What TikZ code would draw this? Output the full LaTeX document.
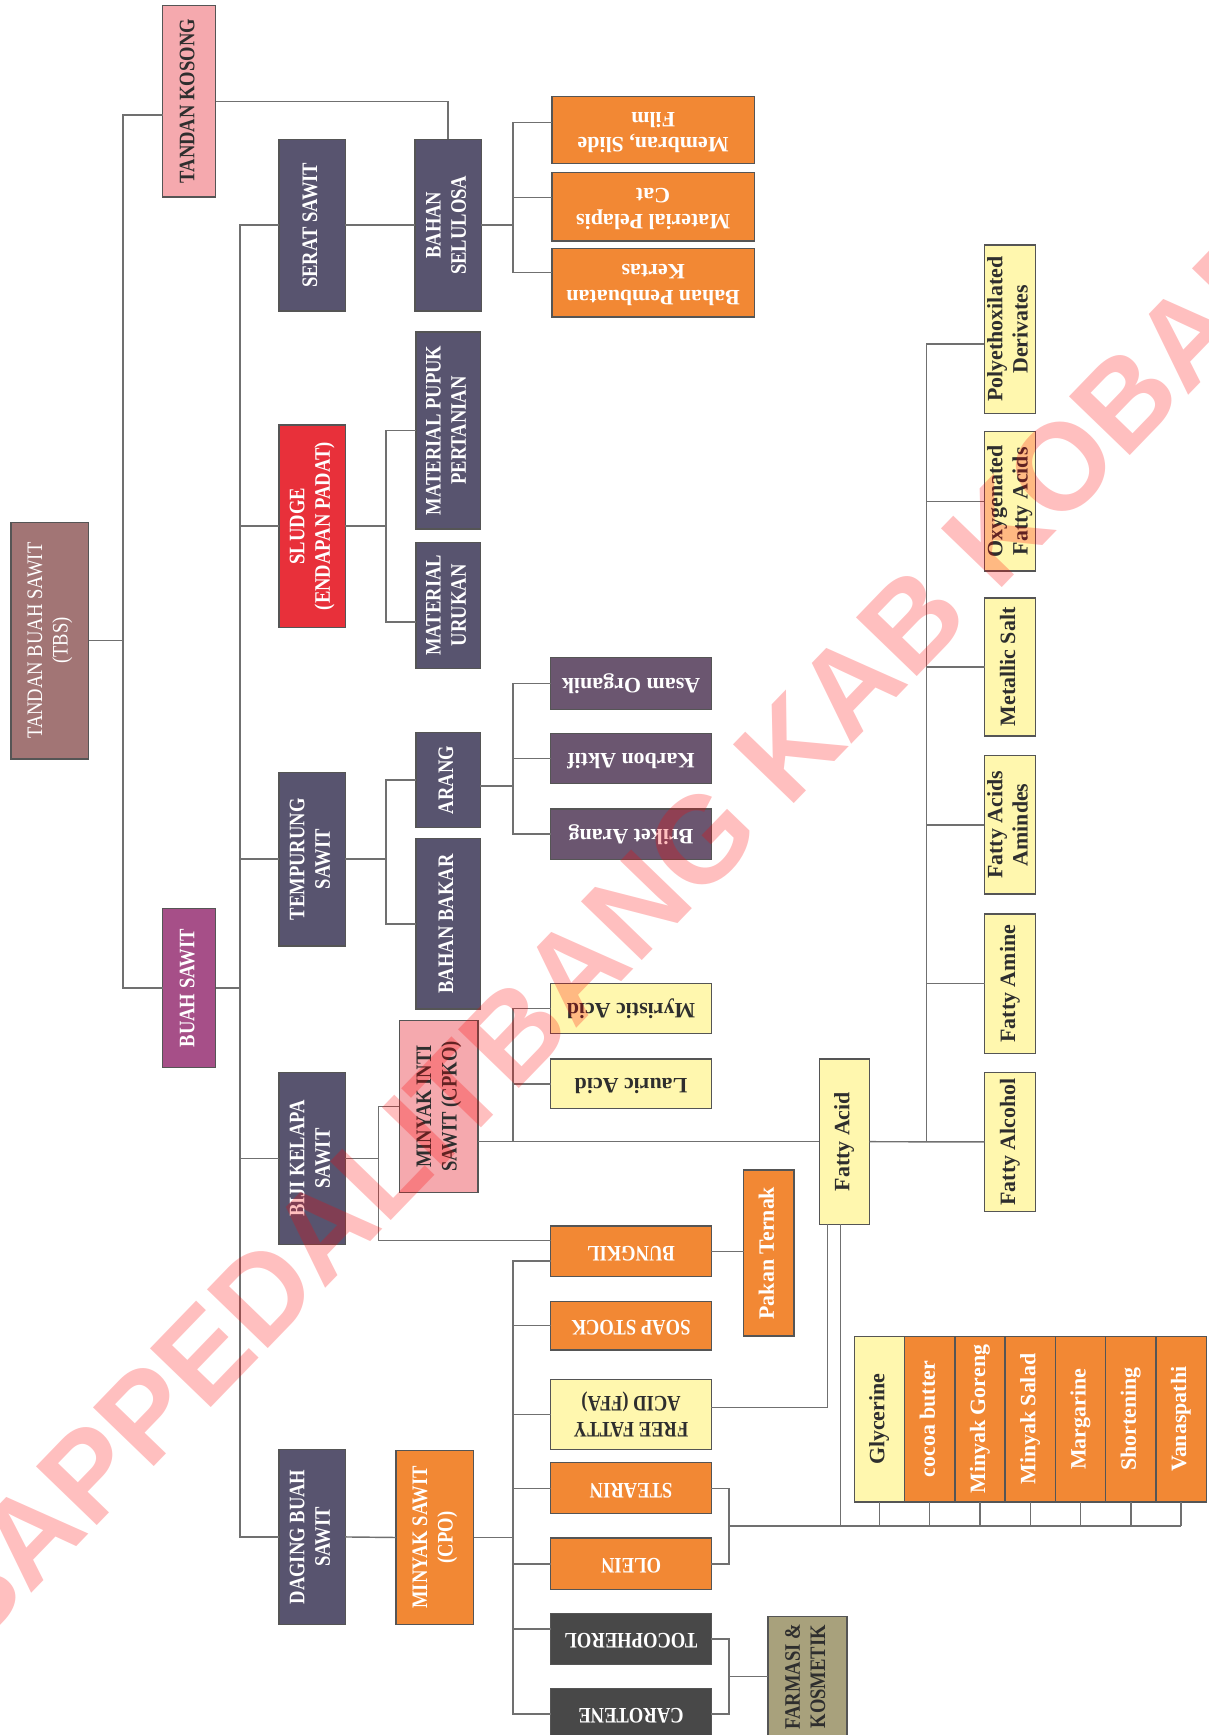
\documentclass[tikz,border=0pt]{standalone}
\usepackage{fontspec}
\setmainfont{Liberation Serif}
\newfontfamily\capsfam[FakeStretch=0.84]{Liberation Serif}
\newfontfamily\marksans{Liberation Sans}
\usetikzlibrary{calc}

\definecolor{cSlate}{HTML}{58546F}
\definecolor{cMauve}{HTML}{6B5670}
\definecolor{cOrange}{HTML}{F28834}
\definecolor{cYellow}{HTML}{FFF7AE}
\definecolor{cPink}{HTML}{F5A9AE}
\definecolor{cRed}{HTML}{E8303A}
\definecolor{cMagenta}{HTML}{A64F88}
\definecolor{cRose}{HTML}{A27575}
\definecolor{cDark}{HTML}{484848}
\definecolor{cOlive}{HTML}{A8A17C}
\definecolor{cEdge}{HTML}{555555}
\definecolor{cLine}{HTML}{707070}
\definecolor{cInk}{HTML}{2E2E2E}

\newcommand{\uptext}[1]{\rotatebox{90}{\begin{tabular}{@{}c@{}}#1\end{tabular}}}
\newcommand{\fliptext}[1]{\rotatebox{180}{\begin{tabular}{@{}c@{}}#1\end{tabular}}}

\tikzset{
  box/.style={draw=cEdge, line width=1.2pt, inner sep=0pt, outer sep=0pt},
  wh/.style 2 args={minimum width=#1, minimum height=#2},
  caps/.style={font=\capsfam\bfseries\fontsize{20}{23}\selectfont},
  capsthin/.style={font=\capsfam\fontsize{20}{23}\selectfont},
  lower/.style={font=\bfseries\fontsize{19.8}{23}\selectfont},
  slatebox/.style={box, caps, fill=cSlate, text=white},
  mauvebox/.style={box, lower, fill=cMauve, text=white},
  orangebox/.style={box, fill=cOrange, text=white},
  yellowbox/.style={box, fill=cYellow, text=cInk},
  pinkbox/.style={box, caps, fill=cPink, text=cInk},
  darkbox/.style={box, caps, fill=cDark, text=white},
  conn/.style={draw=cLine, line width=1.3pt},
}

\begin{document}
\begin{tikzpicture}[x=1pt, y=-1pt]
\clip (0,0) rectangle (1092,1568);

\node[pinkbox, wh={48}{173}] (tk) at (171,91.5) {\uptext{TANDAN KOSONG}};
\node[box, capsthin, fill=cRose, text=white, wh={70}{214}] (tbs) at (45,579) {\uptext{TANDAN BUAH SAWIT\\(TBS)}};
\node[box, caps, fill=cMagenta, text=white, wh={48}{144}] (bs) at (171,893) {\uptext{BUAH SAWIT}};

\node[slatebox, wh={60}{155}] (serat) at (282,203.5) {\uptext{SERAT SAWIT}};
\node[box, caps, fill=cRed, text=white, wh={60}{183}] (sludge) at (282,475.5) {\uptext{SLUDGE\\(ENDAPAN PADAT)}};
\node[slatebox, wh={60}{157}] (tempurung) at (282,776.5) {\uptext{TEMPURUNG\\SAWIT}};
\node[slatebox, wh={60}{156}] (biji) at (282,1047) {\uptext{BIJI KELAPA\\SAWIT}};
\node[slatebox, wh={60}{158}] (daging) at (282,1389) {\uptext{DAGING BUAH\\SAWIT}};

\node[slatebox, wh={60}{155}] (selulosa) at (405,203.5) {\uptext{BAHAN\\SELULOSA}};
\node[slatebox, wh={58}{178}] (mpp) at (405,389) {\uptext{MATERIAL PUPUK\\PERTANIAN}};
\node[slatebox, wh={58}{114}] (mu) at (405,547) {\uptext{MATERIAL\\URUKAN}};
\node[slatebox, wh={58}{86}] (arang) at (405,705) {\uptext{ARANG}};
\node[slatebox, wh={58}{154}] (bakar) at (405,835) {\uptext{BAHAN BAKAR}};
\node[pinkbox, wh={71}{156}] (cpko) at (396.5,1000) {\uptext{MINYAK INTI\\SAWIT (CPKO)}};
\node[orangebox, caps, wh={70}{157}] (cpo) at (393,1389.5) {\uptext{MINYAK SAWIT\\(CPO)}};

\node[orangebox, lower, wh={183}{60}] (memb) at (590.3,117.5) {\fliptext{Membran, Slide\\Film}};
\node[orangebox, lower, wh={183}{62}] (pelapis) at (590.3,186.8) {\fliptext{Material Pelapis\\Cat}};
\node[orangebox, lower, wh={183}{62}] (kertas) at (590.3,255.4) {\fliptext{Bahan Pembuatan\\Kertas}};
\node[mauvebox, wh={145}{47}] (asam) at (570.3,617.5) {\fliptext{Asam Organik}};
\node[mauvebox, wh={145}{45}] (karbon) at (570.3,685.5) {\fliptext{Karbon Aktif}};
\node[mauvebox, wh={145}{45.5}] (briket) at (570.3,753.8) {\fliptext{Briket Arang}};
\node[yellowbox, lower, wh={145}{45}] (myristic) at (570.3,911.5) {\fliptext{Myristic Acid}};
\node[yellowbox, lower, wh={145}{45}] (lauric) at (570.3,979.5) {\fliptext{Lauric Acid}};
\node[orangebox, caps, wh={145}{45.5}] (bungkil) at (570.3,1130.8) {\fliptext{BUNGKIL}};
\node[orangebox, caps, wh={145}{44}] (soap) at (570.3,1198) {\fliptext{SOAP STOCK}};
\node[yellowbox, caps, wh={145}{63}] (ffa) at (570.3,1278.4) {\fliptext{FREE FATTY\\ACID (FFA)}};
\node[orangebox, caps, wh={145}{46}] (stearin) at (570.3,1345) {\fliptext{STEARIN}};
\node[orangebox, caps, wh={145}{46.5}] (olein) at (570.3,1413.3) {\fliptext{OLEIN}};
\node[darkbox, wh={145}{46.5}] (toco) at (570.3,1481.3) {\fliptext{TOCOPHEROL}};
\node[darkbox, wh={145}{46}] (carotene) at (570.3,1549) {\fliptext{CAROTENE}};

\node[orangebox, lower, wh={45.5}{150}] (pakan) at (694.8,1132.5) {\uptext{Pakan Ternak}};
\node[yellowbox, lower, wh={45.2}{149.6}] (fa) at (763,1031.8) {\uptext{Fatty Acid}};
\node[box, caps, fill=cOlive, text=cInk, wh={71.4}{109.4}] (farmasi) at (729.7,1515.3) {\uptext{FARMASI \&\\KOSMETIK}};

\node[yellowbox, lower, wh={45.8}{152}] (poly) at (912.7,297.5) {\uptext{Polyethoxilated\\Derivates}};
\node[yellowbox, lower, wh={45.8}{126}] (oxy) at (912.7,453) {\uptext{Oxygenated\\Fatty Acids}};
\node[yellowbox, lower, wh={45.8}{124.7}] (metal) at (912.7,602.7) {\uptext{Metallic Salt}};
\node[yellowbox, lower, wh={45.8}{125}] (amindes) at (912.7,745.5) {\uptext{Fatty Acids\\Amindes}};
\node[yellowbox, lower, wh={45.8}{126}] (amine) at (912.7,889) {\uptext{Fatty Amine}};
\node[yellowbox, lower, wh={45.8}{126}] (alcohol) at (912.7,1032) {\uptext{Fatty Alcohol}};

\node[yellowbox, lower, wh={45.45}{149.8}] (glyc) at (794.75,1282.6) {\uptext{Glycerine}};
\node[orangebox, lower, wh={45.45}{149.8}] (cocoa) at (840.2,1282.6) {\uptext{cocoa butter}};
\node[orangebox, lower, wh={45.45}{149.8}] (goreng) at (885.65,1282.6) {\uptext{Minyak Goreng}};
\node[orangebox, lower, wh={45.45}{149.8}] (salad) at (931.1,1282.6) {\uptext{Minyak Salad}};
\node[orangebox, lower, wh={45.45}{149.8}] (marg) at (976.55,1282.6) {\uptext{Margarine}};
\node[orangebox, lower, wh={45.45}{149.8}] (short) at (1022,1282.6) {\uptext{Shortening}};
\node[orangebox, lower, wh={45.45}{149.8}] (vanas) at (1067.45,1282.6) {\uptext{Vanaspathi}};

\coordinate (sp1) at (111,0);
\coordinate (sp2) at (217,0);
\coordinate (sp3) at (349,0);
\coordinate (sp4) at (342,0);
\coordinate (sp5) at (463.5,0);
\coordinate (sp6) at (659,0);
\coordinate (sp7) at (837.5,0);
\coordinate (sp8) at (748,0);
\coordinate (sp9) at (759.5,0);
\coordinate (tkin) at ([yshift=-12.5pt]tk.west);
\coordinate (muin) at ([yshift=-15pt]mu.west);
\coordinate (arangout) at ([yshift=-5.5pt]arang.east);
\coordinate (membin) at ([yshift=7pt]memb.west);
\coordinate (pelapisin) at ([yshift=8.4pt]pelapis.west);
\coordinate (kertasin) at ([yshift=8.9pt]kertas.west);
\coordinate (bungkilup) at ([yshift=9.8pt]bungkil.west);
\coordinate (bungkildn) at ([yshift=-8.8pt]bungkil.west);
\coordinate (cpkoout) at (cpko.east |- fa.west);
\coordinate (polyin) at ([yshift=-13.2pt]poly.west);
\coordinate (ffaout) at ([yshift=6.4pt]ffa.east);
\coordinate (tocoin) at ([yshift=9.3pt]toco.west);
\coordinate (oilbus) at ($(stearin.east)!.5!(olein.east)$);
\coordinate (pharmbus) at ($(toco.east)!.5!(carotene.east)$);

\draw[conn] (tbs.east) -- (tbs.east -| sp1);
\draw[conn] (tkin) -| (sp1 |- bs.west) -- (bs.west);
\draw[conn] (tk.east) -| (selulosa.north);
\draw[conn] (bs.east) -- (bs.east -| sp2);
\draw[conn] (serat.west) -| (sp2 |- daging.west) -- (daging.west);
\draw[conn] (sludge.west) -- (sludge.west -| sp2);
\draw[conn] (tempurung.west) -- (tempurung.west -| sp2);
\draw[conn] (biji.west) -- (biji.west -| sp2);

\draw[conn] (serat.east) -- (selulosa.west);
\draw[conn] (selulosa.east) -- (selulosa.east -| sp5);
\draw[conn] (membin) -| (sp5 |- kertasin) -- (kertasin);
\draw[conn] (pelapisin) -- (pelapisin -| sp5);

\draw[conn] (sludge.east) -- (sludge.east -| sp3);
\draw[conn] (mpp.west) -| (sp3 |- muin) -- (muin);
\draw[conn] (tempurung.east) -- (tempurung.east -| sp3);
\draw[conn] (arang.west) -| (sp3 |- bakar.west) -- (bakar.west);
\draw[conn] (arangout) -- (arangout -| sp5);
\draw[conn] (asam.west) -| (sp5 |- briket.west) -- (briket.west);
\draw[conn] (karbon.west) -- (karbon.west -| sp5);

\draw[conn] (biji.east) -- (biji.east -| sp4);
\draw[conn] (cpko.west) -| (sp4 |- bungkilup) -- (bungkilup);
\draw[conn] (cpkoout) -- (fa.west);
\draw[conn] (myristic.west) -| (sp5 |- fa.west);
\draw[conn] (lauric.west) -- (lauric.west -| sp5);
\draw[conn] (bungkil.east) -- (bungkil.east -| pakan.west);

\draw[conn] (fa.east) -- (alcohol.west);
\draw[conn] (polyin) -| (sp7 |- alcohol.west);
\draw[conn] (oxy.west) -- (oxy.west -| sp7);
\draw[conn] (metal.west) -- (metal.west -| sp7);
\draw[conn] (amindes.west) -- (amindes.west -| sp7);
\draw[conn] (amine.west) -- (amine.west -| sp7);

\draw[conn] (daging.east) -- (cpo.west);
\draw[conn] (cpo.east) -- (cpo.east -| sp5);
\draw[conn] (bungkildn) -| (sp5 |- carotene.west) -- (carotene.west);
\draw[conn] (soap.west) -- (soap.west -| sp5);
\draw[conn] (ffa.west) -- (ffa.west -| sp5);
\draw[conn] (stearin.west) -- (stearin.west -| sp5);
\draw[conn] (olein.west) -- (olein.west -| sp5);
\draw[conn] (tocoin) -- (tocoin -| sp5);

\draw[conn] (stearin.east) -| (sp6 |- olein.east) -- (olein.east);
\draw[conn] (oilbus -| sp6) -- (oilbus -| vanas.south);
\draw[conn] (glyc.south) -- (glyc.south |- oilbus);
\draw[conn] (cocoa.south) -- (cocoa.south |- oilbus);
\draw[conn] (goreng.south) -- (goreng.south |- oilbus);
\draw[conn] (salad.south) -- (salad.south |- oilbus);
\draw[conn] (marg.south) -- (marg.south |- oilbus);
\draw[conn] (short.south) -- (short.south |- oilbus);
\draw[conn] (vanas.south) -- (vanas.south |- oilbus);
\draw[conn] (ffaout) -| (sp8 |- fa.south);
\draw[conn] (sp9 |- fa.south) -- (sp9 |- oilbus);
\draw[conn] (toco.east) -| (sp6 |- carotene.east) -- (carotene.east);
\draw[conn] (pharmbus -| sp6) -- (pharmbus -| farmasi.west);

\node[font=\marksans\bfseries\fontsize{111}{111}\selectfont, text=red, text opacity=0.25, inner sep=0pt, rotate=46] (mark) at (550,845) {BAPPEDALITBANG KAB KOBAR};

\end{tikzpicture}
\end{document}
